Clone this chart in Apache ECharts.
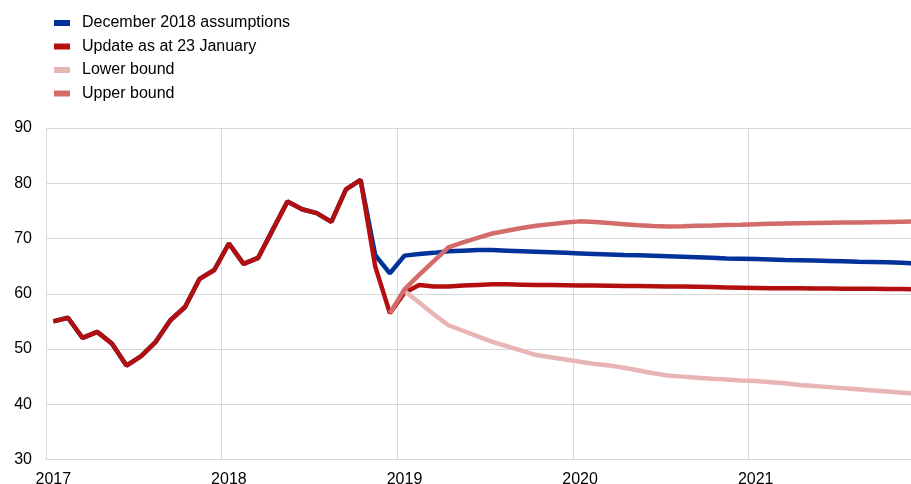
<!DOCTYPE html>
<html>
<head>
<meta charset="utf-8">
<script src="https://cdn.jsdelivr.net/npm/echarts@6/dist/echarts.min.js"></script>
<style>
  html, body { margin: 0; padding: 0; background: #fff; }
  #chart { width: 911px; height: 484px; }
</style>
</head>
<body>
<div id="chart"></div>
<script>
// years shown on the axis, one category per month
const years = ['2017', '2018', '2019', '2020', '2021'];

// observed prices Jan 2017 - Oct 2018
const history = [
  55.0, 55.65, 52.0, 53.1, 51.0, 47.0, 48.7, 51.3, 55.2, 57.6, 62.7, 64.3,
  69.1, 65.4, 66.5, 71.6, 76.7, 75.3, 74.6, 73.0, 78.9, 80.6
];

// Nov 2018 - Dec 2021
const decAssumptions = [
  67.0, 63.7,
  66.9, 67.2, 67.4, 67.7, 67.8, 67.9, 67.9, 67.8, 67.7, 67.6, 67.5, 67.4,
  67.3, 67.2, 67.1, 67.0, 66.95, 66.9, 66.8, 66.7, 66.6, 66.5, 66.4, 66.35,
  66.3, 66.2, 66.1, 66.05, 66.0, 65.95, 65.9, 65.8, 65.75, 65.7, 65.6, 65.5
];

// Nov 2018 - Dec 2021
const janUpdate = [
  64.9, 56.5,
  60.2, 61.6, 61.3, 61.3, 61.5, 61.6, 61.7, 61.7, 61.65, 61.6, 61.6, 61.55,
  61.5, 61.5, 61.45, 61.4, 61.4, 61.35, 61.3, 61.3, 61.25, 61.2, 61.15, 61.1,
  61.05, 61.0, 61.0, 61.0, 60.95, 60.95, 60.9, 60.9, 60.9, 60.85, 60.85, 60.8
];

// Jan 2019 - Dec 2021
const lowerBound = [
  60.5, 58.4, 56.3, 54.3, 53.3, 52.3, 51.3, 50.5, 49.7, 48.9, 48.5, 48.1,
  47.7, 47.3, 47.0, 46.6, 46.1, 45.6, 45.2, 45.0, 44.8, 44.6, 44.5, 44.3,
  44.2, 44.0, 43.8, 43.5, 43.3, 43.1, 42.9, 42.7, 42.5, 42.3, 42.1, 41.9
];

// Dec 2018 - Dec 2021
const upperBound = [
  56.5,
  60.8, 63.4, 65.9, 68.4, 69.3, 70.1, 70.9, 71.4, 71.9, 72.3, 72.6, 72.9,
  73.1, 73.0, 72.8, 72.6, 72.4, 72.25, 72.15, 72.2, 72.3, 72.35, 72.45, 72.5,
  72.6, 72.65, 72.7, 72.75, 72.8, 72.85, 72.9, 72.9, 72.95, 73.0, 73.05, 73.1
];

const months = [];
years.forEach(y => {
  for (let m = 1; m <= 12; m++) months.push(y + '-' + (m < 10 ? '0' + m : m));
});

function pad(arr) {
  // leading nulls so the series ends in Dec 2021
  return new Array(months.length - arr.length).fill(null).concat(arr);
}

const font = 'Arial, "Liberation Sans", sans-serif';
const gridColor = '#d9d9d9';

function lineSeries(name, color, data) {
  return {
    name: name,
    type: 'line',
    data: data,
    symbol: 'none',
    color: color,
    lineStyle: { width: 4.5, color: color },
    emphasis: { disabled: true }
  };
}

const chart = echarts.init(document.getElementById('chart'));
chart.setOption({
  animation: false,
  textStyle: { fontFamily: font },
  legend: {
    orient: 'vertical',
    left: 49,
    top: 9,
    icon: 'rect',
    itemWidth: 16,
    itemHeight: 6,
    itemGap: 5.5,
    textStyle: { fontSize: 16, color: '#000', fontFamily: font, lineHeight: 18, padding: [0, 0, 0, 7] },
    data: ['December 2018 assumptions', 'Update as at 23 January', 'Lower bound', 'Upper bound']
  },
  // the last months run past the right edge of the picture
  grid: { left: 46, top: 128, width: 878, bottom: 24.5, outerBoundsMode: 'none', containLabel: false },
  xAxis: {
    type: 'category',
    data: months,
    boundaryGap: true,
    axisLine: { lineStyle: { color: gridColor } },
    axisTick: { show: false },
    axisLabel: {
      interval: (i) => i % 12 === 0,
      formatter: (v) => v.slice(0, 4),
      fontSize: 16,
      color: '#000',
      margin: 12
    },
    splitLine: {
      show: true,
      interval: (i) => i % 12 === 0,
      lineStyle: { color: gridColor, width: 1 }
    }
  },
  yAxis: {
    type: 'value',
    min: 30,
    max: 90,
    interval: 10,
    axisLine: { show: false },
    axisTick: { show: false },
    axisLabel: { fontSize: 16, color: '#000', margin: 14 },
    splitLine: { lineStyle: { color: gridColor, width: 1 } }
  },
  series: [
    lineSeries('December 2018 assumptions', '#003299', history.concat(decAssumptions)),
    lineSeries('Update as at 23 January', '#b40f0f', history.concat(janUpdate)),
    lineSeries('Lower bound', '#e8b4b4', pad(lowerBound)),
    lineSeries('Upper bound', '#d36b6b', pad(upperBound))
  ]
});
</script>
</body>
</html>
